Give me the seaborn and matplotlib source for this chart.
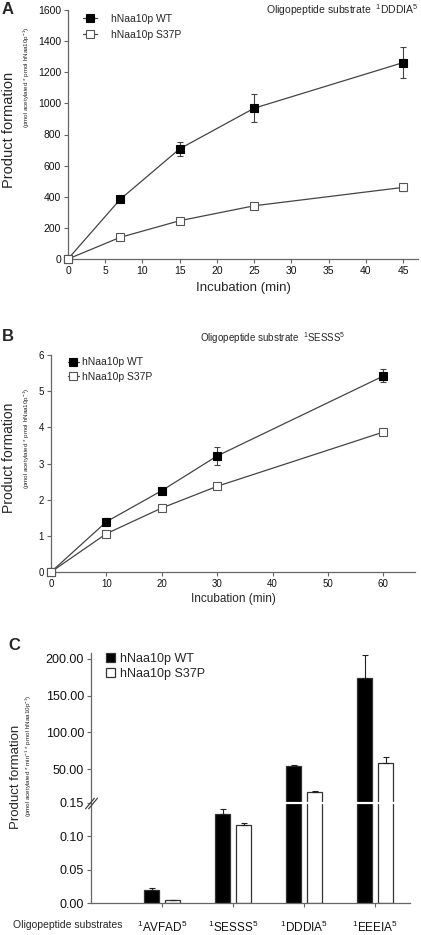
import numpy as np
import pandas as pd
import matplotlib
matplotlib.use("Agg")
import matplotlib.pyplot as plt
from matplotlib.path import Path
import seaborn as sns

# Panel A: oligopeptide 1DDDIA5
time_a = [0, 7, 15, 25, 45]
wt_a = [0, 383, 708, 969, 1262]
wt_a_err = [0, 18, 45, 90, 100]
s37p_a = [0, 139, 246, 342, 460]
s37p_a_err = [0, 12, 15, 12, 25]

# Panel B: oligopeptide 1SESSS5
time_b = [0, 10, 20, 30, 60]
wt_b = [0, 1.39, 2.25, 3.21, 5.42]
wt_b_err = [0, 0.10, 0.09, 0.26, 0.18]
s37p_b = [0, 1.06, 1.77, 2.37, 3.87]
s37p_b_err = [0, 0.05, 0.04, 0.07, 0.04]

# Panel C: rates per substrate
substrates = ["$^{1}$AVFAD$^{5}$", "$^{1}$SESSS$^{5}$", "$^{1}$DDDIA$^{5}$", "$^{1}$EEEIA$^{5}$"]
wt_c = [0.0199, 0.1333, 54.5, 174]
wt_c_err = [0.0025, 0.007, 1.5, 31]
s37p_c = [0.004, 0.1164, 19.6, 58]
s37p_c_err = [0.0005, 0.003, 0.5, 9]

c_ticks = [0, 0.05, 0.10, 0.15, 50, 100, 150, 200]

sns.set_style("ticks")
plt.rcParams["font.family"] = ["Liberation Sans", "DejaVu Sans"]
plt.rcParams["mathtext.fontset"] = "custom"
plt.rcParams["mathtext.rm"] = "Liberation Sans"
plt.rcParams["mathtext.it"] = "Liberation Sans:italic"
plt.rcParams["mathtext.bf"] = "Liberation Sans:bold"
plt.rcParams["axes.edgecolor"] = "#666666"
plt.rcParams["xtick.color"] = "#666666"
plt.rcParams["ytick.color"] = "#666666"
plt.rcParams["xtick.labelcolor"] = "#111111"
plt.rcParams["ytick.labelcolor"] = "#111111"
plt.rcParams["axes.linewidth"] = 0.9

W, H = 421, 935
fig = plt.figure(figsize=(W / 100, H / 100), dpi=100)


def box(x0, y0, x1, y1):
    # pixel box (top-left origin) -> figure fraction
    return [x0 / W, 1 - y1 / H, (x1 - x0) / W, (y1 - y0) / H]


def curve(ax, x, y, err, label, filled, ms):
    face = "black" if filled else "white"
    edge = "black" if filled else "#555555"
    ax.errorbar(x, y, yerr=err, fmt="none", ecolor="#444444", elinewidth=0.8,
                capsize=2.5, capthick=0.8, zorder=2)
    sns.lineplot(x=x, y=y, ax=ax, color="#444444", linewidth=0.9, marker="s",
                 markersize=ms, markerfacecolor=face, markeredgecolor=edge,
                 markeredgewidth=0.8, label=label, clip_on=False, zorder=3)


# ---------------- A ----------------
ax_a = fig.add_axes(box(68, 10, 418, 259))
curve(ax_a, time_a, wt_a, wt_a_err, "hNaa10p WT", True, 6)
curve(ax_a, time_a, s37p_a, s37p_a_err, "hNaa10p S37P", False, 6)
ax_a.set_xlim(0, 47)
ax_a.set_ylim(0, 1600)
ax_a.set_xticks(range(0, 50, 5))
ax_a.set_yticks(range(0, 1800, 200))
ax_a.tick_params(labelsize=7.5, length=3, width=0.8, pad=2)
ax_a.set_xlabel("Incubation (min)", fontsize=9.5, labelpad=4)
ax_a.set_ylabel("")
sns.despine(ax=ax_a)
ax_a.legend(loc="upper left", bbox_to_anchor=(0.043, 0.985), frameon=False,
            borderpad=0, borderaxespad=0, fontsize=7.5, handlelength=1.35,
            handletextpad=1.3, labelspacing=0.6)
fig.text(418 / W, 1 - 10 / H, "Oligopeptide substrate  $^{1}$DDDIA$^{5}$",
         ha="right", va="center", fontsize=7.5)
fig.text(2 / W, 1 - 9 / H, "A", fontsize=12, fontweight="bold", va="center")
fig.text(9 / W, 1 - 130 / H, "Product formation", rotation=90, ha="center",
         va="center", fontsize=10.5)
fig.text(27 / W, 1 - 27 / H, "(pmol acetylated * pmol hNaa10p$^{-1}$)",
         rotation=90, ha="center", va="top", fontsize=4.5)

# ---------------- B ----------------
ax_b = fig.add_axes(box(51, 355, 415, 572))
curve(ax_b, time_b, wt_b, wt_b_err, "hNaa10p WT", True, 5.2)
curve(ax_b, time_b, s37p_b, s37p_b_err, "hNaa10p S37P", False, 5.2)
ax_b.set_xlim(0, 65.7)
ax_b.set_ylim(0, 6)
ax_b.set_xticks(range(0, 70, 10))
ax_b.tick_params(labelsize=7, length=3, width=0.8, pad=2)
ax_b.set_xlabel("Incubation (min)", fontsize=8.5, labelpad=3)
ax_b.set_ylabel("")
sns.despine(ax=ax_b)
ax_b.legend(loc="upper left", bbox_to_anchor=(0.047, 0.99), frameon=False,
            borderpad=0, borderaxespad=0, fontsize=7.5, handlelength=1.0,
            handletextpad=0.3, labelspacing=0.45)
fig.text(273 / W, 1 - 338 / H, "Oligopeptide substrate  $^{1}$SESSS$^{5}$",
         ha="center", va="center", fontsize=7)
fig.text(2 / W, 1 - 337 / H, "B", fontsize=12, fontweight="bold", va="center")
fig.text(9 / W, 1 - 458 / H, "Product formation", rotation=90, ha="center",
         va="center", fontsize=10)
fig.text(27 / W, 1 - 388 / H, "(pmol acetylated * pmol hNaa10p$^{-1}$)",
         rotation=90, ha="center", va="top", fontsize=4.5)

# ---------------- C ----------------
xp = [-1, 0, 0.15, 5, 1000]
fp = [-1, 0, 0.15, 0.1505, 0.2 + 950 * 0.0011]


def fwd(v):
    return np.interp(v, xp, fp)


def inv(d):
    return np.interp(d, fp, xp)


df_c = pd.DataFrame({
    "substrate": substrates * 2,
    "rate": wt_c + s37p_c,
    "enzyme": ["hNaa10p WT"] * 4 + ["hNaa10p S37P"] * 4,
})
ax_c = fig.add_axes(box(91, 653, 410, 903))
sns.barplot(data=df_c, x="substrate", y="rate", hue="enzyme", order=substrates,
            palette={"hNaa10p WT": "black", "hNaa10p S37P": "white"},
            edgecolor="#333333", linewidth=0.9, width=0.59, gap=0.29,
            errorbar=None, ax=ax_c, zorder=2)
ax_c.set_yscale("function", functions=(fwd, inv))
for cont, errs in zip(ax_c.containers, [wt_c_err, s37p_c_err]):
    for patch, e in zip(cont, errs):
        ax_c.errorbar(patch.get_x() + patch.get_width() / 2, patch.get_height(),
                      yerr=[[0], [e]], fmt="none", ecolor="#222222",
                      elinewidth=0.8, capsize=2.5, capthick=0.8, zorder=3)
ax_c.set_xlim(-1.0, 3.49)
ax_c.set_ylim(0, 208)
ax_c.set_yticks(c_ticks)
ax_c.set_yticklabels([f"{t:.2f}" for t in c_ticks])
ax_c.tick_params(axis="y", labelsize=9, length=3, width=0.8, pad=2)
ax_c.tick_params(axis="x", labelsize=8.5, length=3, width=0.8, pad=9)
ax_c.set_xlabel("")
ax_c.set_ylabel("")
sns.despine(ax=ax_c)
# white gap through the bars at the axis break
ax_c.axhline(0.15, xmin=0.01, color="white", linewidth=1.6, zorder=4)
brk = Path([(-1, -0.9), (0.5, 0.9), (-0.5, -0.9), (1, 0.9)],
           [Path.MOVETO, Path.LINETO, Path.MOVETO, Path.LINETO])
ax_c.plot([0], [0.15], marker=brk, markersize=9, color="#444444",
          markeredgewidth=0.9, linestyle="none", clip_on=False,
          transform=ax_c.get_yaxis_transform(), zorder=5)
ax_c.legend(loc="upper left", bbox_to_anchor=(0.047, 1.0), frameon=False,
            borderpad=0, borderaxespad=0, fontsize=9, handlelength=0.7,
            handleheight=0.7, handletextpad=0.4, labelspacing=0.2)
fig.text(68 / W, 1 - 925 / H, "Oligopeptide substrates", ha="center",
         va="center", fontsize=7.5)
fig.text(8 / W, 1 - 646 / H, "C", fontsize=12, fontweight="bold", va="center")
fig.text(16 / W, 1 - 777 / H, "Product formation", rotation=90, ha="center",
         va="center", fontsize=9.5)
fig.text(29 / W, 1 - 695 / H,
         "(pmol acetylated * min$^{-1}$ * pmol hNaa10p$^{-1}$)",
         rotation=90, ha="center", va="top", fontsize=4.5)

fig.savefig("out.png", dpi=100)
